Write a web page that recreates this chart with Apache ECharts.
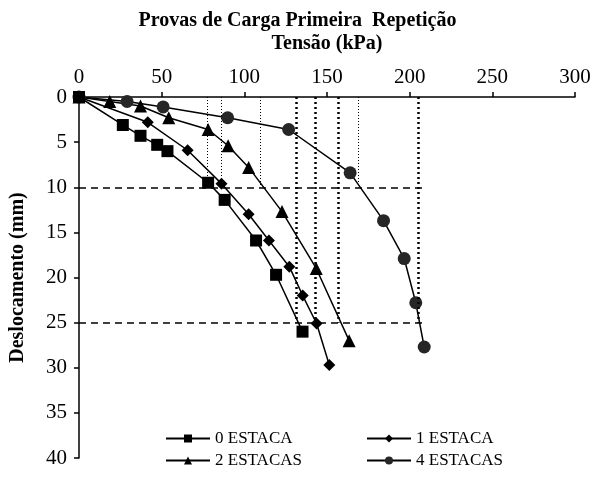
<!DOCTYPE html>
<html>
<head>
<meta charset="utf-8">
<script src="https://cdn.jsdelivr.net/npm/echarts@6/dist/echarts.min.js"></script>
<style>
html,body{margin:0;padding:0;background:#fff;}
#chart{width:595px;height:484px;}
</style>
</head>
<body>
<div id="chart"></div>
<script>
// ---- Data (Tensão kPa vs Deslocamento mm) ----
const seriesNames = ['0 ESTACA', '1 ESTACA', '2 ESTACAS', '4 ESTACAS'];

const estaca0X = [0, 26.5, 37.2, 47.3, 53.5, 78.1, 88.1, 107.1, 119.2, 135.2];
const estaca0Y = [0, 3.1, 4.3, 5.3, 6.0, 9.5, 11.4, 15.9, 19.7, 26.0];

const estaca1X = [0, 41.6, 65.7, 86.2, 102.6, 114.9, 127.2, 135.3, 143.7, 151.4];
const estaca1Y = [0, 2.8, 5.9, 9.6, 13.0, 15.9, 18.8, 22.0, 25.1, 29.7];

const estaca2X = [0, 18.6, 37.2, 54.3, 78.1, 90.2, 102.6, 122.8, 143.5, 163.4];
const estaca2Y = [0, 0.5, 1.0, 2.3, 3.6, 5.4, 7.8, 12.7, 19.0, 27.0];

const estaca4X = [0, 29.1, 50.9, 89.9, 126.8, 164.0, 184.2, 196.7, 203.7, 208.8];
const estaca4Y = [0, 0.5, 1.1, 2.3, 3.6, 8.4, 13.7, 17.9, 22.8, 27.7];

// reference lines
const refDepths = [10, 25];
const refDepthEnd = 208;
const dotted10X = [77.8, 85.8, 109.8, 168.8];
const dotted25X = [131.4, 142.9, 156.7, 205.1];

const xMin = 0, xMax = 300, xStep = 50;
const yMin = 0, yMax = 40, yStep = 5;

// ---- Build ----
const font = 'Liberation Serif';
function pairs(xs, ys) { return xs.map((x, i) => [x, ys[i]]); }

const markerDefs = {
  '0 ESTACA': { symbol: 'rect', size: 12, color: '#000' },
  '1 ESTACA': { symbol: 'diamond', size: 12, color: '#000' },
  '2 ESTACAS': { symbol: 'triangle', size: 13, color: '#000' },
  '4 ESTACAS': { symbol: 'circle', size: 13, color: '#262626' }
};
const dataMap = {
  '0 ESTACA': pairs(estaca0X, estaca0Y),
  '1 ESTACA': pairs(estaca1X, estaca1Y),
  '2 ESTACAS': pairs(estaca2X, estaca2Y),
  '4 ESTACAS': pairs(estaca4X, estaca4Y)
};

const refSeries = {
  type: 'line',
  data: [],
  silent: true,
  markLine: {
    silent: true,
    symbol: 'none',
    label: { show: false },
    animation: false,
    data: [
      ...refDepths.map(d => [
        { coord: [0, d], lineStyle: { type: [7, 5], width: 1.5, color: '#000' } },
        { coord: [refDepthEnd, d] }
      ]),
      ...dotted10X.map(x => [
        { coord: [x, 0], lineStyle: { type: [1, 2], width: 1, color: '#000' } },
        { coord: [x, 10] }
      ]),
      ...dotted25X.map(x => [
        { coord: [x, 0], lineStyle: { type: [2, 3], width: 2.5, color: '#000' } },
        { coord: [x, 25] }
      ])
    ]
  }
};

const drawOrder = ['4 ESTACAS', '2 ESTACAS', '1 ESTACA', '0 ESTACA'];
const dataSeries = drawOrder.map(name => ({
  name: name,
  type: 'line',
  data: dataMap[name],
  symbol: markerDefs[name].symbol,
  symbolSize: markerDefs[name].size,
  showAllSymbol: true,
  itemStyle: { color: markerDefs[name].color },
  lineStyle: { color: '#000', width: 1.5 },
  animation: false,
  z: 3
}));

const legendCommon = {
  orient: 'vertical',
  top: 430,
  padding: 0,
  itemWidth: 44,
  itemHeight: 10,
  itemGap: 5,
  textStyle: { fontFamily: font, fontSize: 17, color: '#000' },
  selectedMode: false
};

const option = {
  backgroundColor: '#fff',
  animation: false,
  title: {
    text: 'Provas de Carga Primeira  Repetição',
    left: 'center',
    top: 6,
    textStyle: { fontFamily: font, fontSize: 20, fontWeight: 'bold', color: '#000' }
  },
  grid: { left: 78, right: 20, top: 97, bottom: 26 },
  legend: [
    Object.assign({ left: 165, data: ['0 ESTACA', '2 ESTACAS'] }, legendCommon),
    Object.assign({ left: 366, data: ['1 ESTACA', '4 ESTACAS'] }, legendCommon)
  ],
  xAxis: {
    type: 'value',
    position: 'top',
    min: xMin, max: xMax, interval: xStep,
    name: 'Tensão (kPa)',
    nameLocation: 'middle',
    nameGap: 43,
    nameTextStyle: { fontFamily: font, fontSize: 20, fontWeight: 'bold', color: '#000' },
    axisLine: { lineStyle: { color: '#000', width: 1.5 } },
    axisTick: { show: true, inside: false, length: 5, lineStyle: { color: '#000', width: 1.5 } },
    axisLabel: { fontFamily: font, fontSize: 21, color: '#000', margin: 9 },
    splitLine: { show: false }
  },
  yAxis: {
    type: 'value',
    inverse: true,
    min: yMin, max: yMax, interval: yStep,
    name: 'Deslocamento (mm)',
    nameLocation: 'middle',
    nameGap: 51,
    nameTextStyle: { fontFamily: font, fontSize: 20, fontWeight: 'bold', color: '#000' },
    axisLine: { lineStyle: { color: '#000', width: 1.5 } },
    axisTick: { show: true, inside: false, length: 5, lineStyle: { color: '#000', width: 1.5 } },
    axisLabel: { fontFamily: font, fontSize: 21, color: '#000', margin: 12 },
    splitLine: { show: false }
  },
  series: [refSeries, ...dataSeries]
};

const chart = echarts.init(document.getElementById('chart'), null, { renderer: 'canvas' });
chart.setOption(option);
</script>
</body>
</html>
